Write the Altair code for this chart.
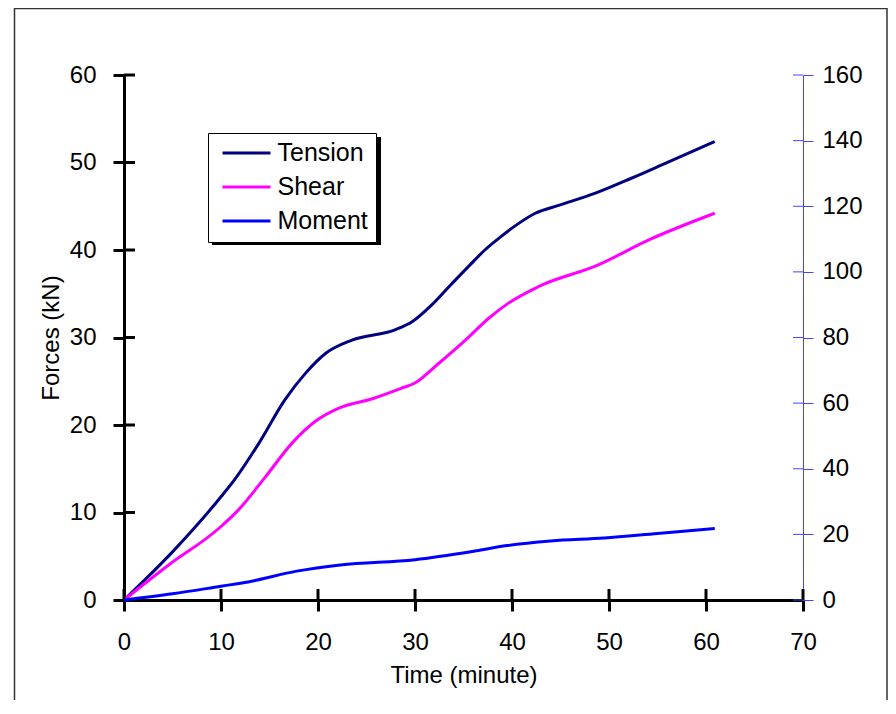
import altair as alt
import pandas as pd

# ---- data ----
tension_time = [0, 5, 10, 11.5, 13.9, 16.6, 18.7, 20.8, 23.5, 28, 29.7, 31.7, 33.5,
                35.5, 37.2, 38.6, 40, 42.4, 44.8, 48.6, 52.3, 55.8, 60.9]
tension_val = [0, 5.5, 11.8, 13.9, 17.9, 22.9, 25.9, 28.2, 29.7, 30.9, 31.8, 33.7, 35.8,
               38.1, 40.0, 41.3, 42.5, 44.2, 45.1, 46.5, 48.2, 49.9, 52.4]

shear_time = [0, 4.6, 9.8, 11.8, 14.6, 17.3, 19.7, 22.1, 25.6, 28.6, 30, 32.4, 35.2,
              37.6, 39.6, 42.7, 48.9, 54, 60.9]
shear_val = [0, 4.0, 8.2, 10.3, 14.1, 17.9, 20.4, 21.9, 23.0, 24.2, 24.8, 27.0, 29.7,
             32.2, 33.9, 35.8, 38.3, 41.1, 44.2]

moment_time = [0, 5, 10, 12.8, 17.8, 22.3, 30, 35.9, 39.5, 44, 49.5, 55, 60.9]
moment_val = [0, 1.9, 4.2, 5.5, 8.8, 10.7, 12.3, 14.8, 16.6, 18.0, 18.9, 20.3, 21.8]

series_names = ["Tension", "Shear", "Moment"]
series_colors = ["#000080", "#FF00FF", "#0000FF"]

x_ticks = [0, 10, 20, 30, 40, 50, 60, 70]
left_ticks = [0, 10, 20, 30, 40, 50, 60]
right_ticks = [0, 20, 40, 60, 80, 100, 120, 140, 160]

# ---- tables ----
df_left = pd.concat([
    pd.DataFrame({"time": tension_time, "value": tension_val, "series": "Tension"}),
    pd.DataFrame({"time": shear_time, "value": shear_val, "series": "Shear"}),
])
df_right = pd.DataFrame({"time": moment_time, "value": moment_val, "series": "Moment"})
df_xt = pd.DataFrame({"time": x_ticks})
df_lt = pd.DataFrame({"value": left_ticks})
df_rt = pd.DataFrame({"value": right_ticks})

W, H = 679, 525
FONT = "Liberation Sans"
AXIS_BLUE = "#4444FF"

color = alt.Color(
    "series:N",
    scale=alt.Scale(domain=series_names, range=series_colors),
    sort=series_names,
    legend=alt.Legend(
        title=None, orient="none", legendX=84, legendY=58,
        padding=7.5, fillColor="white", strokeColor="black",
        symbolType="M-0.6875,0H5.3125", symbolSize=256, symbolStrokeWidth=3,
        labelFont=FONT, labelFontSize=25, labelColor="black",
        labelOffset=37, rowPadding=8,
    ),
)

x_enc = alt.X(
    "time:Q",
    scale=alt.Scale(domain=[0, 70], nice=False),
    axis=alt.Axis(
        values=x_ticks, title="Time (minute)", grid=False,
        domainColor="black", domainWidth=3, tickColor="black", tickWidth=3,
        tickSize=11, labelPadding=19, titlePadding=9, labelFlush=False,
        labelOverlap=False,
    ),
)

left_y = alt.Y(
    "value:Q",
    scale=alt.Scale(domain=[0, 60], nice=False),
    axis=alt.Axis(
        orient="left", values=left_ticks, title="Forces (kN)", grid=False,
        domainColor="black", domainWidth=3, tickColor="black", tickWidth=3,
        tickSize=11, labelPadding=17, titlePadding=6, labelFlush=False,
        labelOverlap=False,
    ),
)

right_y = alt.Y(
    "value:Q",
    scale=alt.Scale(domain=[0, 160], nice=False),
    axis=alt.Axis(
        orient="right", values=right_ticks, title=None, grid=False,
        domainColor=AXIS_BLUE, domainWidth=1, tickColor=AXIS_BLUE, tickWidth=1,
        tickSize=10, labelPadding=9, labelFlush=False, labelOverlap=False,
    ),
)

left_lines = alt.Chart(df_left).mark_line(
    interpolate="monotone", strokeWidth=3
).encode(x=x_enc, y=left_y, color=color)

left_inner_ticks = alt.Chart(df_lt).mark_rule(color="black", strokeWidth=3).encode(
    y=alt.Y("value:Q"), x=alt.value(0), x2=alt.value(11)
)
x_inner_ticks = alt.Chart(df_xt).mark_rule(color="black", strokeWidth=3).encode(
    x=alt.X("time:Q"), y=alt.value(H), y2=alt.value(H - 11)
)

left_group = alt.layer(left_lines, left_inner_ticks, x_inner_ticks)

right_line = alt.Chart(df_right).mark_line(
    interpolate="monotone", strokeWidth=3
).encode(x=alt.X("time:Q"), y=right_y, color=color)

right_inner_ticks = alt.Chart(df_rt).mark_rule(color=AXIS_BLUE, strokeWidth=1).encode(
    y=alt.Y("value:Q"), x=alt.value(W - 10), x2=alt.value(W)
)

right_group = alt.layer(right_line, right_inner_ticks)

dummy = alt.Data(values=[{"k": 1}])
frame = alt.Chart(dummy).mark_rect(
    fillOpacity=0, stroke="#333333", strokeWidth=1.5
).encode(
    x=alt.value(-109.5), x2=alt.value(763), y=alt.value(-66.5), y2=alt.value(700)
)
shadow = alt.Chart(dummy).mark_rect(color="black").encode(
    x=alt.value(88), x2=alt.value(257), y=alt.value(62), y2=alt.value(170)
)

chart = alt.layer(frame, shadow, left_group, right_group).resolve_scale(
    y="independent"
).properties(
    width=W, height=H,
    autosize=alt.AutoSizeParams(type="none"),
    padding={"left": 116, "top": 67, "right": 85, "bottom": 100},
    background="white",
).configure_view(stroke=None).configure_axis(
    labelFont=FONT, titleFont=FONT, labelFontSize=24, titleFontSize=24,
    labelColor="black", titleColor="black", titleFontWeight="normal",
)

chart.save("out.html", embed_options={"renderer": "svg", "actions": False})
